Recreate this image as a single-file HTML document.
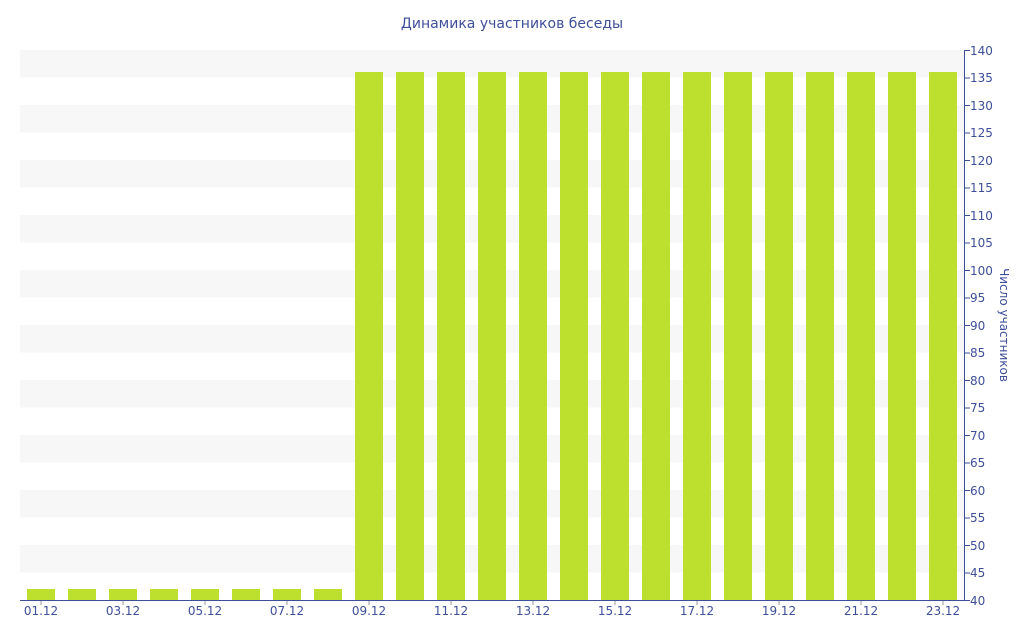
<!DOCTYPE html><html><head><meta charset="utf-8"><style>body{margin:0;background:#fff}svg{display:block}text{font-family:"DejaVu Sans","Liberation Sans",sans-serif;fill:#3e4f9a}</style></head><body>
<svg width="1024" height="640" xmlns="http://www.w3.org/2000/svg">
<text x="512" y="28" font-size="14" text-anchor="middle">Динамика участников беседы</text>
<g fill="#f7f7f7">
<rect x="20" y="50" width="944" height="27.5"/><rect x="20" y="105" width="944" height="27.5"/><rect x="20" y="160" width="944" height="27.5"/><rect x="20" y="215" width="944" height="27.5"/><rect x="20" y="270" width="944" height="27.5"/><rect x="20" y="325" width="944" height="27.5"/><rect x="20" y="380" width="944" height="27.5"/><rect x="20" y="435" width="944" height="27.5"/><rect x="20" y="490" width="944" height="27.5"/><rect x="20" y="545" width="944" height="27.5"/>
</g>
<g fill="#bde02e">
<rect x="27" y="589" width="28" height="11"/><rect x="68" y="589" width="28" height="11"/><rect x="109" y="589" width="28" height="11"/><rect x="150" y="589" width="28" height="11"/><rect x="191" y="589" width="28" height="11"/><rect x="232" y="589" width="28" height="11"/><rect x="273" y="589" width="28" height="11"/><rect x="314" y="589" width="28" height="11"/>
<rect x="355" y="72" width="28" height="528"/><rect x="396" y="72" width="28" height="528"/><rect x="437" y="72" width="28" height="528"/><rect x="478" y="72" width="28" height="528"/><rect x="519" y="72" width="28" height="528"/><rect x="560" y="72" width="28" height="528"/><rect x="601" y="72" width="28" height="528"/><rect x="642" y="72" width="28" height="528"/><rect x="683" y="72" width="28" height="528"/><rect x="724" y="72" width="28" height="528"/><rect x="765" y="72" width="28" height="528"/><rect x="806" y="72" width="28" height="528"/><rect x="847" y="72" width="28" height="528"/><rect x="888" y="72" width="28" height="528"/><rect x="929" y="72" width="28" height="528"/>
</g>
<line x1="20" y1="600.5" x2="964" y2="600.5" stroke="#3e4f9a"/>
<line x1="964.5" y1="50" x2="964.5" y2="600" stroke="#3e4f9a"/>
<g stroke="#999">
<line x1="41" y1="601" x2="41" y2="605"/><line x1="123" y1="601" x2="123" y2="605"/><line x1="205" y1="601" x2="205" y2="605"/><line x1="287" y1="601" x2="287" y2="605"/><line x1="369" y1="601" x2="369" y2="605"/><line x1="451" y1="601" x2="451" y2="605"/><line x1="533" y1="601" x2="533" y2="605"/><line x1="615" y1="601" x2="615" y2="605"/><line x1="697" y1="601" x2="697" y2="605"/><line x1="779" y1="601" x2="779" y2="605"/><line x1="861" y1="601" x2="861" y2="605"/><line x1="943" y1="601" x2="943" y2="605"/>
</g>
<g font-size="12" text-anchor="middle">
<text x="41" y="615">01.12</text><text x="123" y="615">03.12</text><text x="205" y="615">05.12</text><text x="287" y="615">07.12</text><text x="369" y="615">09.12</text><text x="451" y="615">11.12</text><text x="533" y="615">13.12</text><text x="615" y="615">15.12</text><text x="697" y="615">17.12</text><text x="779" y="615">19.12</text><text x="861" y="615">21.12</text><text x="943" y="615">23.12</text>
</g>
<g stroke="#3e4f9a">
<line x1="964" y1="50.5" x2="970" y2="50.5"/><line x1="964" y1="78" x2="970" y2="78"/><line x1="964" y1="105.5" x2="970" y2="105.5"/><line x1="964" y1="133" x2="970" y2="133"/><line x1="964" y1="160.5" x2="970" y2="160.5"/><line x1="964" y1="188" x2="970" y2="188"/><line x1="964" y1="215.5" x2="970" y2="215.5"/><line x1="964" y1="243" x2="970" y2="243"/><line x1="964" y1="270.5" x2="970" y2="270.5"/><line x1="964" y1="298" x2="970" y2="298"/><line x1="964" y1="325.5" x2="970" y2="325.5"/><line x1="964" y1="353" x2="970" y2="353"/><line x1="964" y1="380.5" x2="970" y2="380.5"/><line x1="964" y1="408" x2="970" y2="408"/><line x1="964" y1="435.5" x2="970" y2="435.5"/><line x1="964" y1="463" x2="970" y2="463"/><line x1="964" y1="490.5" x2="970" y2="490.5"/><line x1="964" y1="518" x2="970" y2="518"/><line x1="964" y1="545.5" x2="970" y2="545.5"/><line x1="964" y1="573" x2="970" y2="573"/><line x1="964" y1="600.5" x2="970" y2="600.5"/>
</g>
<g font-size="12">
<text x="970" y="55">140</text><text x="970" y="82">135</text><text x="970" y="110">130</text><text x="970" y="137">125</text><text x="970" y="165">120</text><text x="970" y="192">115</text><text x="970" y="220">110</text><text x="970" y="247">105</text><text x="970" y="275">100</text><text x="970" y="302">95</text><text x="970" y="330">90</text><text x="970" y="357">85</text><text x="970" y="385">80</text><text x="970" y="412">75</text><text x="970" y="440">70</text><text x="970" y="467">65</text><text x="970" y="495">60</text><text x="970" y="522">55</text><text x="970" y="550">50</text><text x="970" y="577">45</text><text x="970" y="605">40</text>
</g>
<text transform="translate(1000,325) rotate(90)" font-size="12" text-anchor="middle">Число участников</text>
</svg></body></html>
